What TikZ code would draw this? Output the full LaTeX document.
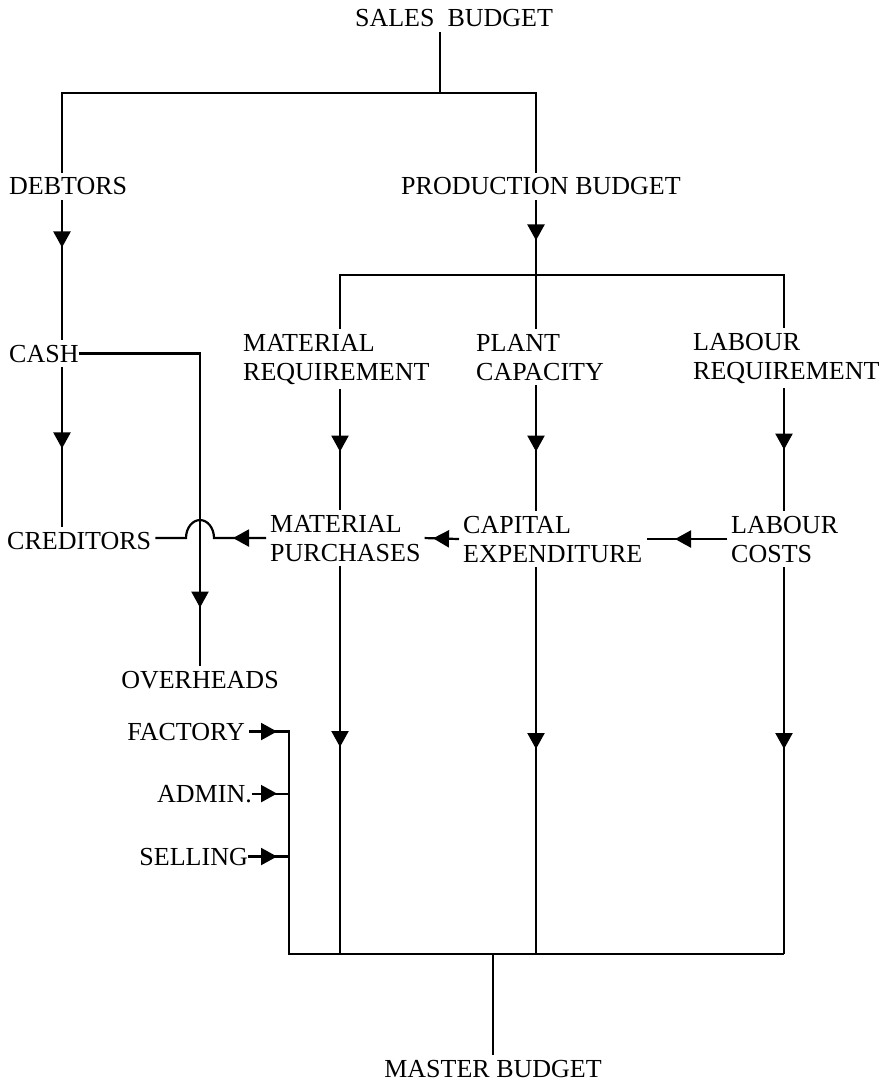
\documentclass[tikz,border=0pt]{standalone}
\usepackage{fontspec}
\setmainfont{Liberation Serif}
\usetikzlibrary{arrows.meta,decorations.markings,calc}
\newcommand\labfont{\fontsize{26pt}{29pt}\selectfont}
\begin{document}
\begin{tikzpicture}[x=1pt,y=-1pt,
  lab/.style={font=\labfont, inner xsep=4pt, inner ysep=5pt, align=left},
  flow/.style={line width=2.2pt},
  tipat/.style={postaction={decorate},
    decoration={markings, mark=at position #1 with {\arrow{Triangle[length=16pt,width=17pt]}}}}]
\useasboundingbox (0,0) rectangle (886,1083);

% column and bar positions
\coordinate (colS) at (440,0);
\coordinate (colL) at (62,0);
\coordinate (colC) at (200,0);
\coordinate (colF) at (289,0);
\coordinate (colM) at (340,0);
\coordinate (colB) at (493,0);
\coordinate (colP) at (536,0);
\coordinate (colR) at (784,0);
\coordinate (topbar) at (0,93);
\coordinate (midbar) at (0,275);
\coordinate (bus) at (0,954);

% labels (two-line labels are placed by the baseline of their last line)
\node[lab, anchor=base] (sales) at (454,27) {SALES\ \ BUDGET};
\node[lab, anchor=base west] (debtors) at (5,195) {DEBTORS};
\node[lab, anchor=base west] (prod) at (397,195) {PRODUCTION BUDGET};
\node[lab, anchor=base west] (cash) at (5,362) {CASH};
\node[lab, anchor=base west] (creditors) at (3,549) {CREDITORS};
\node[lab, anchor=base west] (mreq) at (239,380) {MATERIAL\\REQUIREMENT};
\node[lab, anchor=base west] (plant) at (472,380) {PLANT\\CAPACITY};
\node[lab, anchor=base west] (lreq) at (689,379) {LABOUR\\REQUIREMENT};
\node[lab, anchor=base west] (mpur) at (266,561) {MATERIAL\\PURCHASES};
\node[lab, anchor=base west] (capex) at (459,562) {CAPITAL\\EXPENDITURE};
\node[lab, anchor=base west] (lcost) at (727,562) {LABOUR\\COSTS};
\node[lab, anchor=base] (overheads) at (200,688) {OVERHEADS};
\node[lab, anchor=base east] (factory) at (249,740) {FACTORY};
\node[lab, anchor=base east] (admin) at (256,802) {ADMIN.};
\node[lab, anchor=base east] (selling) at (252,865) {SELLING};
\node[lab, anchor=base] (master) at (493,1077) {MASTER BUDGET};

% sales budget split
\draw[flow] (sales.south -| colS) -- (colS |- topbar);
\draw[flow] (debtors.north -| colL) -- (colL |- topbar) -- (colP |- topbar) -- (prod.north -| colP);

% cash chain
\draw[flow, tipat=47pt] (debtors.south -| colL) -- (cash.north -| colL);
\draw[flow, tipat=81pt] (cash.south -| colL) -- (creditors.north -| colL);
\draw[flow, tipat=-58pt] ([xshift=-4pt]cash.east) -- (colC |- cash.east) -- (overheads.north);

% production split
\draw[flow, tipat=40pt] (prod.south -| colP) -- (colP |- midbar);
\draw[flow] (mreq.north -| colM) -- (colM |- midbar) -- (colR |- midbar) -- (lreq.north -| colR);
\draw[flow] (colP |- midbar) -- (plant.north -| colP);

% requirements to costs
\draw[flow, tipat=-58pt] (mreq.south -| colM) -- (mpur.north -| colM);
\draw[flow, tipat=-59pt] (plant.south -| colP) -- (capex.north -| colP);
\draw[flow, tipat=-61pt] (lreq.south -| colR) -- (lcost.north -| colR);

% cost flows to the left
\draw[flow, tipat=52pt] (lcost.west) -- (capex.east);
\draw[flow, tipat=26pt] (capex.west) -- (mpur.east);
\draw[flow, tipat=33pt] (mpur.west) -- ($(colC |- mpur.west)+(14,0)$)
  arc[start angle=0, end angle=-180, x radius=14, y radius=18]
  -- (creditors.east |- mpur.west);

% overhead inputs and master bus
\draw[flow, tipat=28pt] (factory.east) -- (colF |- factory.east) -- (colF |- bus) -- (colR |- bus);
\draw[flow, tipat=-12pt] ([xshift=-4pt]admin.east) -- (colF |- admin.east);
\draw[flow, tipat=-12pt] ([xshift=-4pt]selling.east) -- (colF |- selling.east);
\draw[flow, tipat=-207pt] (mpur.south -| colM) -- (colM |- bus);
\draw[flow, tipat=-205pt] (capex.south -| colP) -- (colP |- bus);
\draw[flow, tipat=-205pt] (lcost.south -| colR) -- (colR |- bus);
\draw[flow] (colB |- bus) -- (master.north);
\end{tikzpicture}
\end{document}
